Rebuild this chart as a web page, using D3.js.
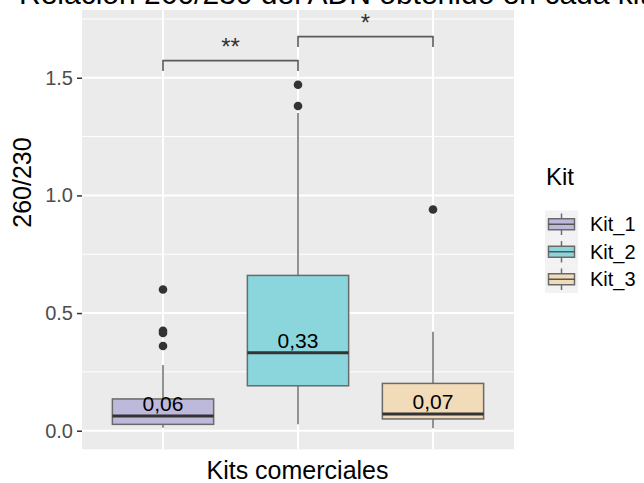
<!DOCTYPE html>
<html>
<head>
<meta charset="utf-8">
<script src="https://cdn.jsdelivr.net/npm/d3@7"></script>
<style>
  html, body { margin: 0; padding: 0; background: #fff; }
  svg { display: block; font-family: "Liberation Sans", Arial, sans-serif; }
</style>
</head>
<body>
<svg id="chart" width="644" height="483"></svg>
<script>
// Box summaries of the 260/230 ratio for each commercial kit
const kits = ["Kit_1", "Kit_2", "Kit_3"];
const whiskerLow = [0.013, 0.027, 0.010];
const q1 = [0.027, 0.191, 0.050];
const median = [0.063, 0.331, 0.071];
const q3 = [0.135, 0.660, 0.201];
const whiskerHigh = [0.279, 1.350, 0.421];
const outliers = [[0.600, 0.425, 0.415, 0.360], [1.470, 1.380], [0.940]];
const medianLabels = ["0,06", "0,33", "0,07"];
const fills = ["#BDB9DB", "#8AD6DC", "#F2DBB8"];

// Pairwise comparisons (significance brackets)
const compFrom = ["Kit_1", "Kit_2"];
const compTo = ["Kit_2", "Kit_3"];
const compY = [1.573, 1.675];
const compLabel = ["**", "*"];

const yTicks = [0, 0.5, 1.0, 1.5];
const yMinor = [0.25, 0.75, 1.25, 1.75];

const svg = d3.select("#chart");
const panel = { left: 82, right: 514, top: 10, bottom: 449.3 };

// discrete axis: 0.6 of a step of padding on each side
const x = d3.scaleBand().domain(kits)
  .range([panel.left, panel.right]).paddingOuter(0.1).paddingInner(0);
const xc = k => x(k) + x.bandwidth() / 2;
const boxW = x.step() * 0.75;

const y = d3.scaleLinear().domain([-0.079, 1.788]).range([panel.bottom, panel.top]);

// Title (runs past the top edge)
svg.append("text")
  .attr("x", 19).attr("y", 4)
  .attr("font-size", 30).attr("fill", "#000")
  .text("Relación 260/230 del ADN obtenido en cada kit");

// Panel background and grid
svg.append("rect")
  .attr("x", panel.left).attr("y", panel.top)
  .attr("width", panel.right - panel.left).attr("height", panel.bottom - panel.top)
  .attr("fill", "#EBEBEB");

const grid = svg.append("g");
grid.selectAll(".minor").data(yMinor).join("line")
  .attr("x1", panel.left).attr("x2", panel.right)
  .attr("y1", d => y(d)).attr("y2", d => y(d))
  .attr("stroke", "#fff").attr("stroke-width", 1);
grid.selectAll(".major").data(yTicks).join("line")
  .attr("x1", panel.left).attr("x2", panel.right)
  .attr("y1", d => y(d)).attr("y2", d => y(d))
  .attr("stroke", "#fff").attr("stroke-width", 2);
grid.selectAll(".vmajor").data(kits).join("line")
  .attr("x1", d => xc(d)).attr("x2", d => xc(d))
  .attr("y1", panel.top).attr("y2", panel.bottom)
  .attr("stroke", "#fff").attr("stroke-width", 2);

// Y axis
const yAxis = d3.axisLeft(y).tickValues(yTicks).tickFormat(d3.format(".1f"))
  .tickSize(5).tickPadding(4);
const ya = svg.append("g").attr("transform", `translate(${panel.left},0)`).call(yAxis);
ya.select(".domain").remove();
ya.selectAll(".tick line").attr("stroke", "#333").attr("stroke-width", 1.5);
ya.selectAll(".tick text").attr("font-size", 20).attr("fill", "#4D4D4D")
  .attr("font-family", "Liberation Sans, Arial, sans-serif");

// Boxplots
const boxes = svg.append("g");
kits.forEach((k, i) => {
  const cx = xc(k);
  const g = boxes.append("g");
  g.append("line")
    .attr("x1", cx).attr("x2", cx)
    .attr("y1", y(q3[i])).attr("y2", y(whiskerHigh[i]))
    .attr("stroke", "#6E6E6E").attr("stroke-width", 1.5);
  g.append("line")
    .attr("x1", cx).attr("x2", cx)
    .attr("y1", y(q1[i])).attr("y2", y(whiskerLow[i]))
    .attr("stroke", "#6E6E6E").attr("stroke-width", 1.5);
  g.append("rect")
    .attr("x", cx - boxW / 2).attr("width", boxW)
    .attr("y", y(q3[i])).attr("height", y(q1[i]) - y(q3[i]))
    .attr("fill", fills[i]).attr("stroke", "#6A6A6A").attr("stroke-width", 1.5);
  g.append("line")
    .attr("x1", cx - boxW / 2).attr("x2", cx + boxW / 2)
    .attr("y1", y(median[i])).attr("y2", y(median[i]))
    .attr("stroke", "#333").attr("stroke-width", 3);
  g.selectAll("circle").data(outliers[i]).join("circle")
    .attr("cx", cx).attr("cy", d => y(d)).attr("r", 4.3)
    .attr("fill", "#333");
  g.append("text")
    .attr("x", cx).attr("y", y(median[i]) - 5)
    .attr("text-anchor", "middle").attr("font-size", 21).attr("fill", "#000")
    .text(medianLabels[i]);
});

// Significance brackets
const tipLen = 0.044;
compFrom.forEach((a, i) => {
  const x1 = xc(a), x2 = xc(compTo[i]);
  const yy = y(compY[i]), yt = y(compY[i] - tipLen);
  svg.append("path")
    .attr("d", `M${x1},${yt}V${yy}H${x2}V${yt}`)
    .attr("fill", "none").attr("stroke", "#5A5A5A").attr("stroke-width", 1.6);
  svg.append("text")
    .attr("x", (x1 + x2) / 2).attr("y", yy - 5.5)
    .attr("text-anchor", "middle").attr("font-size", 24).attr("fill", "#333")
    .text(compLabel[i]);
});

// Axis titles
svg.append("text")
  .attr("x", 297.5).attr("y", 479)
  .attr("text-anchor", "middle").attr("font-size", 25).attr("fill", "#000")
  .text("Kits comerciales");
svg.append("text")
  .attr("transform", "translate(31,182.5) rotate(-90)")
  .attr("text-anchor", "middle").attr("font-size", 25).attr("fill", "#000")
  .text("260/230");

// Legend
const legend = svg.append("g").attr("transform", "translate(545,0)");
legend.append("text").attr("x", 1).attr("y", 185)
  .attr("font-size", 24).attr("fill", "#000").text("Kit");
const keyH = 27.5, keyW = 33, keyTop = 210.5;
kits.forEach((k, i) => {
  const ky = keyTop + i * keyH;
  const cy = ky + keyH / 2;
  const g = legend.append("g");
  g.append("rect").attr("x", 0).attr("y", ky).attr("width", keyW).attr("height", keyH)
    .attr("fill", "#F2F2F2");
  g.append("line").attr("x1", keyW / 2).attr("x2", keyW / 2)
    .attr("y1", ky + 3).attr("y2", ky + keyH - 3)
    .attr("stroke", "#6E6E6E").attr("stroke-width", 1.5);
  g.append("rect").attr("x", 3.5).attr("width", keyW - 7)
    .attr("y", cy - 5.5).attr("height", 11)
    .attr("fill", fills[i]).attr("stroke", "#6A6A6A").attr("stroke-width", 1.5);
  g.append("line").attr("x1", 3.5).attr("x2", keyW - 3.5)
    .attr("y1", cy).attr("y2", cy)
    .attr("stroke", "#555").attr("stroke-width", 1.5);
  g.append("text").attr("x", 45).attr("y", cy + 7)
    .attr("font-size", 20).attr("fill", "#000").text(k);
});
</script>
</body>
</html>
